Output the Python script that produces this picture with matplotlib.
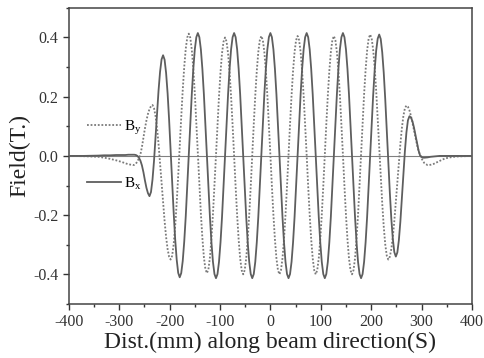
import matplotlib
matplotlib.use("Agg")
import matplotlib.pyplot as plt
from matplotlib.ticker import MultipleLocator, FormatStrFormatter

plt.rcParams['font.family'] = ['Liberation Serif', 'DejaVu Serif']
plt.rcParams['mathtext.fontset'] = 'custom'
plt.rcParams['mathtext.rm'] = 'Liberation Serif'
plt.rcParams['mathtext.it'] = 'Liberation Serif:italic'
plt.rcParams['axes.unicode_minus'] = False

# distance along beam (mm): coarse outside the magnet, every 3 mm inside
dist = [-400, -370, -342, -330, -318, -306, -294, -288, -282,
        -276, -273, -270, -267, -264, -261, -258, -255, -252, -249, -246, -243,
        -240, -237, -234, -231, -228, -225, -222, -219, -216, -213, -210, -207,
        -204, -201, -198, -195, -192, -189, -186, -183, -180, -177, -174, -171,
        -168, -165, -162, -159, -156, -153, -150, -147, -144, -141, -138, -135,
        -132, -129, -126, -123, -120, -117, -114, -111, -108, -105, -102, -99,
        -96, -93, -90, -87, -84, -81, -78, -75, -72, -69, -66, -63,
        -60, -57, -54, -51, -48, -45, -42, -39, -36, -33, -30, -27,
        -24, -21, -18, -15, -12, -9, -6, -3, 0, 3, 6, 9,
        12, 15, 18, 21, 24, 27, 30, 33, 36, 39, 42, 45,
        48, 51, 54, 57, 60, 63, 66, 69, 72, 75, 78, 81,
        84, 87, 90, 93, 96, 99, 102, 105, 108, 111, 114, 117,
        120, 123, 126, 129, 132, 135, 138, 141, 144, 147, 150, 153,
        156, 159, 162, 165, 168, 171, 174, 177, 180, 183, 186, 189,
        192, 195, 198, 201, 204, 207, 210, 213, 216, 219, 222, 225,
        228, 231, 234, 237, 240, 243, 246, 249, 252, 255, 258, 261,
        264, 267, 270, 273, 276, 279, 282, 285, 288, 291, 294, 297,
        300, 303, 306,
        312, 318, 324, 330, 336, 342, 348, 360, 370, 400]

# By (T), dotted curve
b_y = [0.0, -0.001, -0.003, -0.006, -0.010, -0.015, -0.021, -0.025, -0.028,
       -0.030, -0.031, -0.030, -0.026, -0.019, -0.008, 0.005, 0.030, 0.062, 0.093, 0.120, 0.142,
       0.158, 0.168, 0.172, 0.161, 0.135, 0.094, 0.040, -0.023, -0.090, -0.157, -0.220, -0.274,
       -0.315, -0.341, -0.350, -0.337, -0.299, -0.238, -0.159, -0.067, 0.032, 0.130, 0.222, 0.301,
       0.362, 0.400, 0.413, 0.399, 0.359, 0.295, 0.211, 0.113, 0.009, -0.096, -0.194, -0.277,
       -0.342, -0.382, -0.396, -0.383, -0.343, -0.279, -0.197, -0.101, 0.002, 0.105, 0.201, 0.283,
       0.347, 0.386, 0.400, 0.386, 0.346, 0.283, 0.200, 0.104, 0.000, -0.104, -0.200, -0.283,
       -0.346, -0.386, -0.400, -0.386, -0.346, -0.282, -0.199, -0.102, 0.003, 0.107, 0.204, 0.287,
       0.351, 0.391, 0.405, 0.391, 0.351, 0.287, 0.204, 0.107, 0.003, -0.102, -0.199, -0.282,
       -0.346, -0.386, -0.400, -0.386, -0.346, -0.282, -0.199, -0.102, 0.003, 0.107, 0.204, 0.287,
       0.351, 0.391, 0.405, 0.391, 0.351, 0.287, 0.204, 0.107, 0.003, -0.102, -0.199, -0.282,
       -0.346, -0.386, -0.400, -0.386, -0.346, -0.282, -0.199, -0.102, 0.003, 0.107, 0.204, 0.287,
       0.351, 0.391, 0.405, 0.391, 0.351, 0.287, 0.204, 0.107, 0.003, -0.102, -0.199, -0.282,
       -0.346, -0.386, -0.400, -0.386, -0.346, -0.281, -0.198, -0.100, 0.005, 0.110, 0.208, 0.291,
       0.356, 0.396, 0.410, 0.397, 0.359, 0.299, 0.220, 0.128, 0.030, -0.068, -0.160, -0.239,
       -0.299, -0.337, -0.350, -0.341, -0.315, -0.274, -0.220, -0.157, -0.090, -0.023, 0.040, 0.094,
       0.135, 0.161, 0.170, 0.166, 0.154, 0.135, 0.112, 0.087, 0.062, 0.038, 0.018, 0.004,
       -0.008, -0.018, -0.025,
       -0.031, -0.030, -0.027, -0.022, -0.017, -0.012, -0.008, -0.004, -0.002, 0.0]

# Bx (T), solid curve
b_x = [0.0, 0.0, 0.001, 0.002, 0.002, 0.003, 0.003, 0.003, 0.004,
       0.004, 0.004, 0.004, 0.003, 0.000, -0.006, -0.016, -0.032, -0.055, -0.083, -0.108, -0.126,
       -0.136, -0.122, -0.080, -0.017, 0.061, 0.143, 0.221, 0.284, 0.326, 0.340, 0.325, 0.280,
       0.211, 0.121, 0.018, -0.088, -0.191, -0.281, -0.350, -0.395, -0.410, -0.396, -0.355, -0.289,
       -0.204, -0.104, 0.003, 0.109, 0.209, 0.294, 0.360, 0.401, 0.415, 0.401, 0.360, 0.294,
       0.208, 0.108, 0.001, -0.106, -0.206, -0.292, -0.358, -0.399, -0.413, -0.399, -0.358, -0.292,
       -0.206, -0.106, 0.001, 0.108, 0.208, 0.294, 0.360, 0.401, 0.415, 0.401, 0.360, 0.294,
       0.208, 0.108, 0.001, -0.106, -0.206, -0.292, -0.358, -0.399, -0.413, -0.399, -0.358, -0.292,
       -0.206, -0.106, 0.001, 0.108, 0.208, 0.294, 0.360, 0.401, 0.415, 0.401, 0.360, 0.294,
       0.208, 0.108, 0.001, -0.106, -0.206, -0.292, -0.358, -0.399, -0.413, -0.399, -0.358, -0.292,
       -0.206, -0.106, 0.001, 0.108, 0.208, 0.294, 0.360, 0.401, 0.415, 0.401, 0.360, 0.294,
       0.208, 0.108, 0.001, -0.106, -0.206, -0.292, -0.358, -0.399, -0.413, -0.399, -0.358, -0.292,
       -0.206, -0.106, 0.001, 0.108, 0.208, 0.294, 0.360, 0.401, 0.415, 0.401, 0.360, 0.294,
       0.208, 0.108, 0.001, -0.106, -0.206, -0.292, -0.358, -0.399, -0.413, -0.399, -0.358, -0.292,
       -0.206, -0.106, 0.000, 0.106, 0.205, 0.290, 0.356, 0.396, 0.410, 0.395, 0.350, 0.281,
       0.191, 0.088, -0.018, -0.121, -0.211, -0.280, -0.325, -0.340, -0.326, -0.285, -0.222, -0.144,
       -0.062, 0.016, 0.079, 0.120, 0.134, 0.130, 0.117, 0.096, 0.070, 0.043, 0.019, 0.002,
       -0.004, -0.006, -0.006,
       -0.005, -0.003, -0.002, -0.001, 0.0, 0.0, 0.0, 0.0, 0.0, 0.0]

fig, ax = plt.subplots(figsize=(4.85, 3.58), dpi=100)
fig.subplots_adjust(left=0.142, right=0.973, top=0.978, bottom=0.151)

ax.axhline(0, color='#808080', linewidth=0.8, zorder=1)
ax.plot(dist, b_y, color='#7a7a7a', linestyle=(0, (1, 1)), linewidth=1.3,
        label=r'$\mathregular{B_y}$', zorder=2)
ax.plot(dist, b_x, color='#5e5e5e', linestyle='-', linewidth=1.3,
        label=r'$\mathregular{B_x}$', zorder=3)

ax.set_xlim(-400, 400)
ax.set_ylim(-0.5, 0.5)
ax.xaxis.set_major_locator(MultipleLocator(100))
ax.xaxis.set_minor_locator(MultipleLocator(50))
ax.yaxis.set_major_locator(MultipleLocator(0.2))
ax.yaxis.set_minor_locator(MultipleLocator(0.1))
ax.yaxis.set_major_formatter(FormatStrFormatter('%.1f'))
ax.tick_params(which='both', direction='out', top=False, right=False, width=1,
               labelsize=11.5, colors='#333333')
ax.tick_params(which='major', length=4)
ax.tick_params(which='minor', length=2)
for s in ax.spines.values():
    s.set_linewidth(1.1)
    s.set_color('#444444')

ax.set_xlabel('Dist.(mm) along beam direction(S)', fontsize=17, labelpad=1, color='#222222')
ax.set_ylabel('Field(T.)', fontsize=17, labelpad=2, color='#222222')

ax.legend(loc='upper left', bbox_to_anchor=(0.045, 0.626), frameon=False, fontsize=11,
          borderpad=0, borderaxespad=0, labelspacing=2.55, handlelength=2.2, handletextpad=0.25)

fig.savefig('out.png', dpi=100)
